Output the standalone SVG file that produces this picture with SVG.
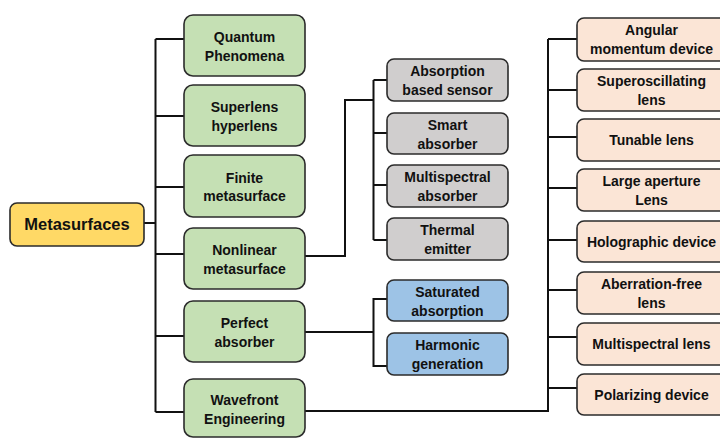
<svg xmlns="http://www.w3.org/2000/svg" width="720" height="438" viewBox="0 0 720 438">
<style>
.box{stroke:#2b2b2b;stroke-width:1.6}
.y{fill:#FFD966}.g{fill:#C5E0B4}.gr{fill:#D0CECE}.b{fill:#9DC3E6}.p{fill:#FBE5D6}
text{font-family:"Liberation Sans",Arial,sans-serif;font-weight:bold;font-size:14px;fill:#111;text-anchor:middle}
.lines path{fill:none;stroke:#111;stroke-width:2}
</style>
<rect width="720" height="438" fill="#fff"/>
<g class="lines" id="connectors">
<path d="M144 223H155.5M155.5 39V412M155.5 39H184M155.5 116H184M155.5 187H184M155.5 254H184M155.5 336H184M155.5 412H184"/>
<path d="M305 256H345V100H373.5M373.5 80V240M373.5 80H387M373.5 133H387M373.5 185H387M373.5 240H387"/>
<path d="M305 332H373.5M387 299H373.5V366H387"/>
<path d="M305 411H548V39M548 39H577M548 90H577M548 137H577M548 188H577M548 240H577M548 290H577M548 337H577M548 388H577"/>
</g>
<g id="metasurfaces"><rect class="box y" x="10" y="203" width="134" height="43" rx="7"/><text x="77" y="230" style="font-size:16.5px">Metasurfaces</text></g>
<g id="quantum"><rect class="box g" x="184" y="15" width="121" height="61" rx="9"/><text x="244.5" y="42">Quantum</text><text x="244.5" y="60.5">Phenomena</text></g>
<g id="superlens"><rect class="box g" x="184" y="85" width="121" height="61" rx="9"/><text x="244.5" y="112">Superlens</text><text x="244.5" y="130.5">hyperlens</text></g>
<g id="finite"><rect class="box g" x="184" y="155" width="121" height="62" rx="9"/><text x="244.5" y="182.5">Finite</text><text x="244.5" y="201">metasurface</text></g>
<g id="nonlinear"><rect class="box g" x="184" y="228" width="121" height="61" rx="9"/><text x="244.5" y="255">Nonlinear</text><text x="244.5" y="273.5">metasurface</text></g>
<g id="perfect"><rect class="box g" x="184" y="301" width="121" height="61" rx="9"/><text x="244.5" y="328">Perfect</text><text x="244.5" y="346.5">absorber</text></g>
<g id="wavefront"><rect class="box g" x="184" y="379" width="121" height="58" rx="9"/><text x="244.5" y="405">Wavefront</text><text x="244.5" y="424">Engineering</text></g>
<g id="absorption-sensor"><rect class="box gr" x="387" y="59" width="121" height="42" rx="7"/><text x="447.5" y="76">Absorption</text><text x="447.5" y="95">based sensor</text></g>
<g id="smart-absorber"><rect class="box gr" x="387" y="113" width="121" height="41" rx="7"/><text x="447.5" y="129.5">Smart</text><text x="447.5" y="148.5">absorber</text></g>
<g id="multispectral-absorber"><rect class="box gr" x="387" y="165" width="121" height="42" rx="7"/><text x="447.5" y="182">Multispectral</text><text x="447.5" y="201">absorber</text></g>
<g id="thermal-emitter"><rect class="box gr" x="387" y="218" width="121" height="42" rx="7"/><text x="447.5" y="235">Thermal</text><text x="447.5" y="254">emitter</text></g>
<g id="saturated"><rect class="box b" x="387" y="280" width="121" height="41" rx="7"/><text x="447.5" y="296.5">Saturated</text><text x="447.5" y="315.5">absorption</text></g>
<g id="harmonic"><rect class="box b" x="387" y="333" width="121" height="42" rx="7"/><text x="447.5" y="350">Harmonic</text><text x="447.5" y="369">generation</text></g>
<g id="angular"><rect class="box p" x="577" y="18" width="150" height="43" rx="7"/><text x="651.5" y="35">Angular</text><text x="651.5" y="54">momentum device</text></g>
<g id="superoscillating"><rect class="box p" x="577" y="69" width="150" height="42" rx="7"/><text x="651.5" y="86">Superoscillating</text><text x="651.5" y="105">lens</text></g>
<g id="tunable"><rect class="box p" x="577" y="119" width="150" height="42" rx="7"/><text x="651.5" y="145">Tunable lens</text></g>
<g id="large-aperture"><rect class="box p" x="577" y="169" width="150" height="42" rx="7"/><text x="651.5" y="186">Large aperture</text><text x="651.5" y="205">Lens</text></g>
<g id="holographic"><rect class="box p" x="577" y="221" width="150" height="41" rx="7"/><text x="651.5" y="247">Holographic device</text></g>
<g id="aberration"><rect class="box p" x="577" y="272" width="150" height="42" rx="7"/><text x="651.5" y="289">Aberration-free</text><text x="651.5" y="308">lens</text></g>
<g id="multispectral-lens"><rect class="box p" x="577" y="323" width="150" height="42" rx="7"/><text x="651.5" y="349">Multispectral lens</text></g>
<g id="polarizing"><rect class="box p" x="577" y="374" width="150" height="41" rx="7"/><text x="651.5" y="400">Polarizing device</text></g>
</svg>
